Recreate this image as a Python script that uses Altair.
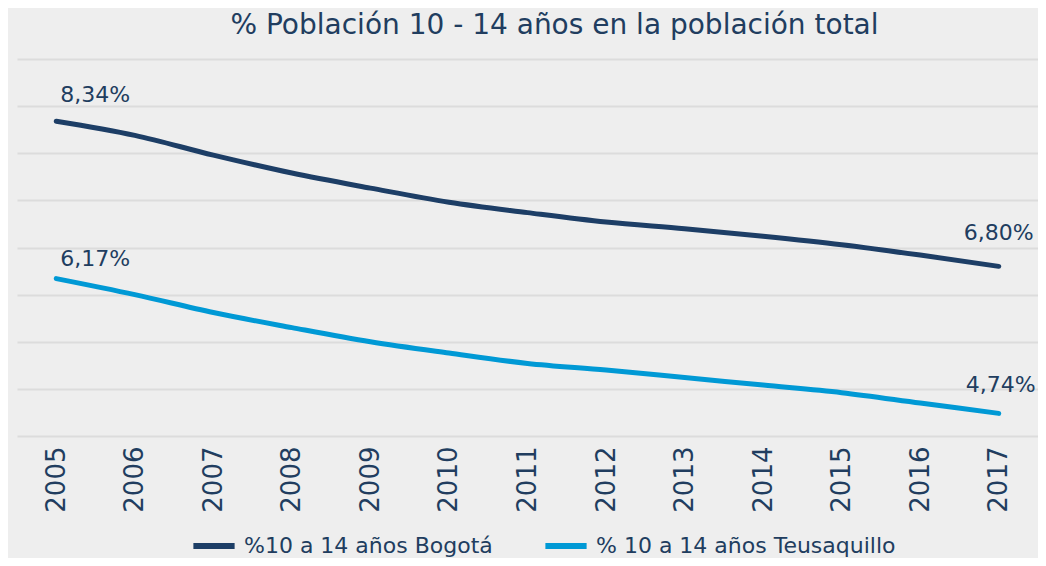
import altair as alt
import pandas as pd

years = [2005, 2006, 2007, 2008, 2009, 2010, 2011, 2012, 2013, 2014, 2015, 2016, 2017]
bogota = [8.34, 8.19, 7.98, 7.79, 7.63, 7.48, 7.37, 7.27, 7.20, 7.12, 7.03, 6.92, 6.80]
teusaquillo = [6.17, 6.00, 5.81, 5.65, 5.50, 5.38, 5.27, 5.20, 5.12, 5.04, 4.96, 4.85, 4.74]
series_names = ["%10 a 14 años Bogotá", "% 10 a 14 años Teusaquillo"]
series_colors = ["#1d3e66", "#0099d5"]
grid_values = [5.0, 5.5, 6.0, 6.5, 7.0, 7.5, 8.0, 8.5, 9.0]

TEXT = "#213d5f"
FONT = "DejaVu Sans"

rows = []
for name, vals in zip(series_names, [bogota, teusaquillo]):
    for y, v in zip(years, vals):
        rows.append({"year": y, "serie": name, "valor": v,
                     "label": f"{v:.2f}".replace(".", ",") + "%"})
df = pd.DataFrame(rows)

xscale = alt.Scale(padding=0.5)
xaxis = alt.Axis(labelAngle=-90, labelFontSize=26, labelColor=TEXT, labelFont=FONT,
                 domain=False, ticks=False, grid=False, title=None, labelPadding=10)
color = alt.Color("serie:N",
                  scale=alt.Scale(domain=series_names, range=series_colors),
                  legend=alt.Legend(orient="none", legendX=173, legendY=463,
                                    direction="horizontal", title=None,
                                    symbolType="stroke", symbolSize=1700,
                                    symbolStrokeWidth=6, labelFontSize=22,
                                    labelFont=FONT, labelColor=TEXT, labelLimit=0,
                                    columnPadding=40, labelOffset=6, padding=0))


def line_layer(name, domain, show_axes):
    if show_axes:
        yax = alt.Axis(values=grid_values, grid=True, gridColor="#dcdcdc", gridWidth=2,
                       labels=False, ticks=False, domain=False, title=None)
    else:
        yax = None
    return alt.Chart(df).transform_filter(alt.datum.serie == name).mark_line(
        strokeWidth=5, strokeCap="round", interpolate="monotone"
    ).encode(
        x=alt.X("year:O", scale=xscale, axis=xaxis),
        y=alt.Y("valor:Q", scale=alt.Scale(domain=domain, zero=False, nice=False), axis=yax),
        color=color,
    )


def label_layer(name, year, domain, dx, dy, align):
    return alt.Chart(df).transform_filter(
        (alt.datum.serie == name) & (alt.datum.year == year)
    ).mark_text(fontSize=22, font=FONT, color=TEXT, dx=dx, dy=dy, align=align,
                baseline="middle").encode(
        x=alt.X("year:O", scale=xscale, axis=xaxis),
        y=alt.Y("valor:Q", scale=alt.Scale(domain=domain, zero=False, nice=False), axis=None),
        text="label:N",
    )


dom_b = [5, 9]
dom_t = [4.5, 8.5]

chart = alt.layer(
    line_layer(series_names[0], dom_b, True),
    line_layer(series_names[1], dom_t, False),
    label_layer(series_names[0], 2005, dom_b, 4, -26, "left"),
    label_layer(series_names[0], 2017, dom_b, 0, -33, "center"),
    label_layer(series_names[1], 2005, dom_t, 4, -20, "left"),
    label_layer(series_names[1], 2017, dom_t, 2, -28, "center"),
).resolve_scale(y="independent").properties(
    width=1021, height=377,
    autosize=alt.AutoSizeParams(type="none"),
    padding={"left": 9, "top": 51, "right": 0, "bottom": 122},
    background="#eeeeee",
    title=alt.TitleParams("% Población 10 - 14 años en la población total",
                          fontSize=28, font=FONT, color=TEXT, fontWeight="normal",
                          anchor="middle", dx=27, offset=19),
).configure_view(stroke=None)

chart.save("out.html", embed_options={"renderer": "svg", "actions": False})
